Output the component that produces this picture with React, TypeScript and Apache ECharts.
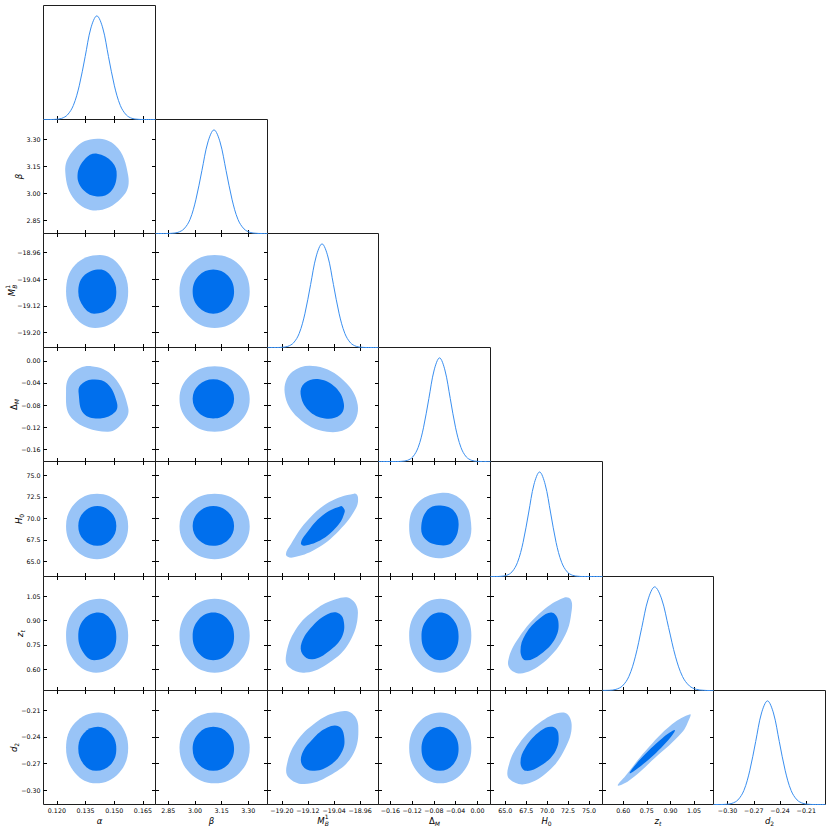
import React, { useEffect, useRef } from 'react';
import * as echarts from 'echarts';

// ---------------- data ----------------
const paramNames = ['alpha', 'beta', 'M_B^1', 'Delta_M', 'H_0', 'z_t', 'd_2'];

const axisRanges: [number, number][] = [
  [0.113, 0.1716],
  [2.778, 3.408],
  [-19.244, -18.904],
  [-0.182, 0.024],
  [63.25, 76.6],
  [0.469, 1.173],
  [-0.316, -0.188],
];

const tickValues: number[][] = [
  [0.12, 0.135, 0.15, 0.165],
  [2.85, 3.0, 3.15, 3.3],
  [-19.2, -19.12, -19.04, -18.96],
  [-0.16, -0.12, -0.08, -0.04, 0],
  [65, 67.5, 70, 72.5, 75],
  [0.6, 0.75, 0.9, 1.05],
  [-0.3, -0.27, -0.24, -0.21],
];

const tickLabels: string[][] = [
  ['0.120', '0.135', '0.150', '0.165'],
  ['2.85', '3.00', '3.15', '3.30'],
  ['\u221219.20', '\u221219.12', '\u221219.04', '\u221218.96'],
  ['\u22120.16', '\u22120.12', '\u22120.08', '\u22120.04', '0.00'],
  ['65.0', '67.5', '70.0', '72.5', '75.0'],
  ['0.60', '0.75', '0.90', '1.05'],
  ['\u22120.30', '\u22120.27', '\u22120.24', '\u22120.21'],
];

// 1D marginals (normalised density, peak = 1)
const margAlpha = [[0.113,0],[0.1163,0],[0.1194,0.002],[0.1225,0.011],[0.1255,0.044],[0.1286,0.135],[0.1317,0.325],[0.1348,0.607],[0.1378,0.883],[0.1409,1],[0.1440,0.883],[0.1470,0.607],[0.1501,0.325],[0.1532,0.135],[0.1563,0.044],[0.1593,0.011],[0.1624,0.002],[0.1655,0],[0.1716,0]];
const margBeta = [[2.778,0],[2.836,0],[2.870,0.002],[2.904,0.011],[2.938,0.044],[2.972,0.135],[3.005,0.325],[3.039,0.607],[3.073,0.883],[3.107,1],[3.141,0.883],[3.175,0.607],[3.209,0.325],[3.242,0.135],[3.276,0.044],[3.310,0.011],[3.344,0.002],[3.378,0],[3.408,0]];
const margMB = [[-19.244,0],[-19.217,0],[-19.1995,0.002],[-19.182,0.011],[-19.1645,0.044],[-19.147,0.135],[-19.1295,0.325],[-19.112,0.607],[-19.0945,0.883],[-19.077,1],[-19.0595,0.883],[-19.042,0.607],[-19.0245,0.325],[-19.007,0.135],[-18.9895,0.044],[-18.972,0.011],[-18.9545,0.002],[-18.937,0],[-18.904,0]];
const margDM = [[-0.182,0],[-0.1485,0],[-0.1387,0.002],[-0.1288,0.011],[-0.1190,0.044],[-0.1091,0.135],[-0.0993,0.325],[-0.0894,0.607],[-0.0796,0.883],[-0.0697,1],[-0.0599,0.883],[-0.0500,0.607],[-0.0402,0.325],[-0.0303,0.135],[-0.0205,0.044],[-0.0106,0.011],[-0.0008,0.002],[0.0091,0],[0.024,0]];
const margH0 = [[63.25,0],[63.84,0],[64.50,0.002],[65.16,0.011],[65.81,0.044],[66.47,0.135],[67.13,0.325],[67.79,0.607],[68.44,0.883],[69.10,1],[69.76,0.883],[70.42,0.607],[71.07,0.325],[71.73,0.135],[72.39,0.044],[73.05,0.011],[73.70,0.002],[74.36,0],[76.6,0]];
const margZt = [[0.469,0.001],[0.5133,0.002],[0.5542,0.011],[0.5952,0.044],[0.6362,0.135],[0.6771,0.325],[0.7181,0.607],[0.7590,0.883],[0.800,1],[0.8441,0.883],[0.8882,0.607],[0.9323,0.325],[0.9764,0.135],[1.0205,0.044],[1.0646,0.011],[1.1087,0.002],[1.1528,0],[1.173,0]];
const margD2 = [[-0.316,0],[-0.3084,0],[-0.3016,0.002],[-0.2949,0.011],[-0.2881,0.044],[-0.2813,0.135],[-0.2746,0.325],[-0.2678,0.607],[-0.2611,0.883],[-0.2543,1],[-0.2475,0.883],[-0.2408,0.607],[-0.2340,0.325],[-0.2273,0.135],[-0.2205,0.044],[-0.2137,0.011],[-0.2070,0.002],[-0.2002,0],[-0.188,0]];

// 2D contours (95% and 68% outlines), [x, y] in data units
const alpha_beta_95 = [[0.1244,3.118],[0.1279,3.228],[0.1375,3.298],[0.1506,3.265],[0.1573,3.099],[0.1550,2.989],[0.1419,2.906],[0.1296,2.961]];
const alpha_beta_68 = [[0.1308,3.099],[0.1349,3.192],[0.1410,3.219],[0.1489,3.173],[0.1513,3.099],[0.1480,3.007],[0.1410,2.983],[0.1340,3.017]];
const alpha_mb_95 = [[0.1573,-19.077],[0.1525,-18.998],[0.1425,-18.968],[0.1295,-18.998],[0.1248,-19.077],[0.1295,-19.154],[0.1400,-19.186],[0.1525,-19.154]];
const alpha_mb_68 = [[0.1511,-19.077],[0.1482,-19.030],[0.1425,-19.011],[0.1341,-19.030],[0.1312,-19.077],[0.1341,-19.124],[0.1395,-19.143],[0.1482,-19.124]];
const alpha_dm_95 = [[0.1573,-0.085],[0.1497,-0.029],[0.1380,-0.0098],[0.1279,-0.0229],[0.1248,-0.053],[0.1279,-0.1042],[0.1463,-0.1283],[0.1550,-0.1103]];
const alpha_dm_68 = [[0.1513,-0.0742],[0.1463,-0.041],[0.1384,-0.0338],[0.1323,-0.044],[0.1314,-0.059],[0.134,-0.0951],[0.1427,-0.1042],[0.1506,-0.0922]];
const alpha_h0_95 = [[0.1573,69.07],[0.1525,71.76],[0.1410,72.87],[0.1295,71.76],[0.1248,69.07],[0.1295,66.37],[0.1410,65.26],[0.1525,66.37]];
const alpha_h0_68 = [[0.1511,69.11],[0.1482,70.74],[0.1412,71.42],[0.1341,70.74],[0.1312,69.11],[0.1341,67.49],[0.1412,66.82],[0.1482,67.49]];
const alpha_zt_95 = [[0.1573,0.808],[0.1525,0.969],[0.1425,1.036],[0.1295,0.969],[0.1248,0.808],[0.1295,0.646],[0.1405,0.579],[0.1525,0.646]];
const alpha_zt_68 = [[0.1511,0.803],[0.1482,0.907],[0.1418,0.950],[0.1341,0.907],[0.1312,0.803],[0.1341,0.699],[0.1395,0.656],[0.1482,0.699]];
const alpha_d2_95 = [[0.1573,-0.2524],[0.1525,-0.2242],[0.1418,-0.2126],[0.1295,-0.2242],[0.1248,-0.2524],[0.1295,-0.2806],[0.1405,-0.2922],[0.1525,-0.2806]];
const alpha_d2_68 = [[0.1511,-0.2535],[0.1482,-0.2360],[0.1415,-0.2288],[0.1341,-0.2360],[0.1312,-0.2535],[0.1341,-0.2710],[0.1405,-0.2782],[0.1482,-0.2710]];
const beta_mb_95 = [[3.308,-19.077],[3.250,-18.998],[3.111,-18.968],[2.971,-18.998],[2.913,-19.077],[2.971,-19.154],[3.111,-19.186],[3.250,-19.154]];
const beta_mb_68 = [[3.220,-19.077],[3.186,-19.030],[3.103,-19.011],[3.021,-19.030],[2.987,-19.077],[3.021,-19.124],[3.103,-19.143],[3.186,-19.124]];
const beta_dm_95 = [[3.308,-0.0691],[3.250,-0.0271],[3.111,-0.0098],[2.971,-0.0271],[2.913,-0.0691],[2.971,-0.1112],[3.111,-0.1283],[3.250,-0.1112]];
const beta_dm_68 = [[3.220,-0.0687],[3.186,-0.0437],[3.103,-0.0332],[3.021,-0.0437],[2.987,-0.0687],[3.021,-0.0939],[3.103,-0.1042],[3.186,-0.0939]];
const beta_h0_95 = [[3.308,69.07],[3.250,71.76],[3.111,72.87],[2.971,71.76],[2.913,69.07],[2.971,66.37],[3.111,65.26],[3.250,66.37]];
const beta_h0_68 = [[3.220,69.11],[3.186,70.74],[3.103,71.42],[3.021,70.74],[2.987,69.11],[3.021,67.49],[3.103,66.82],[3.186,67.49]];
const beta_zt_95 = [[3.308,0.808],[3.250,0.969],[3.111,1.036],[2.971,0.969],[2.913,0.808],[2.971,0.646],[3.111,0.579],[3.250,0.646]];
const beta_zt_68 = [[3.220,0.803],[3.186,0.907],[3.103,0.950],[3.021,0.907],[2.987,0.803],[3.021,0.699],[3.103,0.656],[3.186,0.699]];
const beta_d2_95 = [[3.308,-0.2524],[3.250,-0.2242],[3.111,-0.2126],[2.971,-0.2242],[2.913,-0.2524],[2.971,-0.2806],[3.111,-0.2922],[3.250,-0.2806]];
const beta_d2_68 = [[3.220,-0.2535],[3.186,-0.2360],[3.103,-0.2288],[3.021,-0.2360],[2.987,-0.2535],[3.021,-0.2710],[3.103,-0.2782],[3.186,-0.2710]];
const mb_dm_95 = [[-18.9676,-0.080],[-19.010,-0.036],[-19.095,-0.0098],[-19.168,-0.020],[-19.1913,-0.058],[-19.150,-0.103],[-19.062,-0.1283],[-18.990,-0.118]];
const mb_dm_68 = [[-19.0102,-0.077],[-19.036,-0.048],[-19.085,-0.0332],[-19.130,-0.040],[-19.1426,-0.060],[-19.118,-0.090],[-19.068,-0.1042],[-19.022,-0.098]];
const mb_h0_95 = [[-18.967,72.47],[-18.979,72.87],[-19.055,71.885],[-19.1265,69.545],[-19.172,67.018],[-19.1874,65.766],[-19.167,65.45],[-19.096,66.433],[-19.025,68.574],[-18.974,71.113]];
const mb_h0_68 = [[-19.0096,71.113],[-19.020,71.417],[-19.0757,70.329],[-19.1265,68.188],[-19.1417,67.135],[-19.1314,66.819],[-19.0757,67.603],[-19.025,69.358],[-19.0078,70.715]];
const mb_zt_95 = [[-18.9895,1.036],[-18.967,0.9497],[-18.994,0.7645],[-19.055,0.6411],[-19.1265,0.5794],[-19.177,0.6103],[-19.1874,0.6825],[-19.157,0.8472],[-19.096,0.9706],[-19.0352,1.0323]];
const mb_zt_68 = [[-19.030,0.9497],[-19.0117,0.9089],[-19.0147,0.8059],[-19.055,0.7133],[-19.106,0.6621],[-19.1365,0.693],[-19.1395,0.7645],[-19.106,0.8676],[-19.0605,0.9398]];
const mb_d2_95 = [[-18.9895,-0.2128],[-18.966,-0.2277],[-18.9844,-0.2614],[-19.055,-0.2838],[-19.1314,-0.2931],[-19.1792,-0.2857],[-19.1853,-0.2726],[-19.157,-0.2465],[-19.096,-0.224],[-19.0352,-0.2128]];
const mb_d2_68 = [[-19.025,-0.2285],[-19.0096,-0.2389],[-19.0147,-0.2558],[-19.055,-0.2726],[-19.106,-0.2782],[-19.1365,-0.2726],[-19.1387,-0.2595],[-19.106,-0.2426],[-19.0605,-0.2296]];
const dm_h0_95 = [[-0.0684,72.938],[-0.0315,72.283],[-0.0131,70.130],[-0.0192,67.018],[-0.0653,65.38],[-0.1114,66.433],[-0.1256,68.96],[-0.1114,71.698]];
const dm_h0_68 = [[-0.0715,71.499],[-0.0439,70.914],[-0.0347,69.159],[-0.0468,67.205],[-0.0715,66.9],[-0.0961,67.603],[-0.1034,68.96],[-0.0929,70.914]];
const dm_zt_95 = [[-0.0112,0.808],[-0.0280,0.969],[-0.0684,1.036],[-0.1088,0.969],[-0.1256,0.808],[-0.1088,0.646],[-0.0684,0.579],[-0.0280,0.646]];
const dm_zt_68 = [[-0.0347,0.803],[-0.0446,0.907],[-0.0688,0.950],[-0.0929,0.907],[-0.1029,0.803],[-0.0929,0.699],[-0.0688,0.656],[-0.0446,0.699]];
const dm_d2_95 = [[-0.0112,-0.2524],[-0.0280,-0.2242],[-0.0684,-0.2126],[-0.1088,-0.2242],[-0.1256,-0.2524],[-0.1088,-0.2806],[-0.0684,-0.2922],[-0.0280,-0.2806]];
const dm_d2_68 = [[-0.0347,-0.2535],[-0.0446,-0.2360],[-0.0688,-0.2288],[-0.0929,-0.2360],[-0.1029,-0.2535],[-0.0929,-0.2710],[-0.0688,-0.2782],[-0.0446,-0.2710]];
const h0_zt_95 = [[72.80,1.0323],[71.999,1.0422],[69.417,0.9601],[66.62,0.7954],[65.354,0.6516],[65.832,0.5899],[67.421,0.5794],[70.206,0.672],[72.202,0.8164],[72.919,0.9601]];
const h0_zt_68 = [[70.612,0.9497],[71.33,0.8984],[71.007,0.7954],[69.214,0.693],[67.421,0.656],[66.824,0.7133],[67.421,0.8164],[69.214,0.9188]];
const h0_d2_95 = [[71.999,-0.2128],[72.919,-0.2258],[72.202,-0.2521],[70.206,-0.2782],[67.421,-0.2931],[65.509,-0.2875],[65.354,-0.2745],[66.62,-0.2483],[69.417,-0.2221]];
const h0_d2_68 = [[70.612,-0.2288],[71.33,-0.236],[71.007,-0.2558],[69.214,-0.2726],[67.421,-0.2782],[66.824,-0.2689],[67.421,-0.2521],[69.214,-0.2333]];
const zt_d2_95 = [[1.025,-0.2146],[0.9096,-0.2258],[0.7413,-0.2558],[0.6152,-0.2838],[0.5661,-0.2946],[0.636,-0.2894],[0.8043,-0.2633],[0.9726,-0.2352],[1.0186,-0.2202]];
const zt_d2_68 = [[0.9279,-0.2325],[0.8484,-0.2415],[0.7098,-0.265],[0.6417,-0.281],[0.7413,-0.2687],[0.8737,-0.2462]];

const marginals = [margAlpha, margBeta, margMB, margDM, margH0, margZt, margD2];

const contourPanels: { col: number; row: number; p95: number[][]; p68: number[][] }[] = [
  { col: 0, row: 1, p95: alpha_beta_95, p68: alpha_beta_68 },
  { col: 0, row: 2, p95: alpha_mb_95, p68: alpha_mb_68 },
  { col: 0, row: 3, p95: alpha_dm_95, p68: alpha_dm_68 },
  { col: 0, row: 4, p95: alpha_h0_95, p68: alpha_h0_68 },
  { col: 0, row: 5, p95: alpha_zt_95, p68: alpha_zt_68 },
  { col: 0, row: 6, p95: alpha_d2_95, p68: alpha_d2_68 },
  { col: 1, row: 2, p95: beta_mb_95, p68: beta_mb_68 },
  { col: 1, row: 3, p95: beta_dm_95, p68: beta_dm_68 },
  { col: 1, row: 4, p95: beta_h0_95, p68: beta_h0_68 },
  { col: 1, row: 5, p95: beta_zt_95, p68: beta_zt_68 },
  { col: 1, row: 6, p95: beta_d2_95, p68: beta_d2_68 },
  { col: 2, row: 3, p95: mb_dm_95, p68: mb_dm_68 },
  { col: 2, row: 4, p95: mb_h0_95, p68: mb_h0_68 },
  { col: 2, row: 5, p95: mb_zt_95, p68: mb_zt_68 },
  { col: 2, row: 6, p95: mb_d2_95, p68: mb_d2_68 },
  { col: 3, row: 4, p95: dm_h0_95, p68: dm_h0_68 },
  { col: 3, row: 5, p95: dm_zt_95, p68: dm_zt_68 },
  { col: 3, row: 6, p95: dm_d2_95, p68: dm_d2_68 },
  { col: 4, row: 5, p95: h0_zt_95, p68: h0_zt_68 },
  { col: 4, row: 6, p95: h0_d2_95, p68: h0_d2_68 },
  { col: 5, row: 6, p95: zt_d2_95, p68: zt_d2_68 },
];

// ---------------- styling / layout ----------------
const COL_LEFT = [43, 155, 267, 378, 490, 602, 713, 825];
const ROW_TOP = [5, 119, 233, 347, 461, 576, 690, 804];
const DARK = '#006FED';
const LIGHT = '#99C4F7';
const CURVE = '#3a8ff0';
const FRAME = '#1e1e1e';
const FONT = 'DejaVu Sans';

const titleParts = [
  { main: '\u03b1', mainItalic: true, mainW: 5.6 },
  { main: '\u03b2', mainItalic: true, mainW: 5.4 },
  { main: 'M', mainItalic: true, mainW: 7.4, sub: 'B', subItalic: true, subW: 4.1, sup: '1' },
  { main: '\u0394', mainItalic: false, mainW: 5.8, sub: 'M', subItalic: true, subW: 5.2 },
  { main: 'H', mainItalic: true, mainW: 6.4, sub: '0', subItalic: false, subW: 3.8 },
  { main: 'z', mainItalic: true, mainW: 4.5, sub: 't', subItalic: true, subW: 2.4 },
  { main: 'd', mainItalic: true, mainW: 5.4, sub: '2', subItalic: false, subW: 3.8 },
] as any[];
const yTitleX = [0, 18.5, 11.5, 13.5, 18.5, 19.5, 13.5];

function titleGroup(i: number, x: number, y: number, rotation: number) {
  const t = titleParts[i];
  const total = t.mainW + (t.sub ? t.subW : 0);
  const x0 = -total / 2;
  const base = { fontFamily: FONT, fill: '#000', textAlign: 'left', textVerticalAlign: 'middle' };
  const children: any[] = [
    { type: 'text', x: x0, y: 0, style: { ...base, text: t.main, fontSize: 8.5, fontStyle: t.mainItalic ? 'italic' : 'normal' } },
  ];
  if (t.sub) children.push({ type: 'text', x: x0 + t.mainW, y: 2.8, style: { ...base, text: t.sub, fontSize: 6, fontStyle: t.subItalic ? 'italic' : 'normal' } });
  if (t.sup) children.push({ type: 'text', x: x0 + t.mainW, y: -3.6, style: { ...base, text: t.sup, fontSize: 6 } });
  return { type: 'group', x, y, rotation, silent: true, children };
}

function labelFormatter(p: number) {
  return (v: number) => {
    const i = tickValues[p].findIndex((t) => Math.abs(t - v) < 1e-7 * Math.max(1, Math.abs(t)));
    return i >= 0 ? tickLabels[p][i] : '';
  };
}

function buildOption() {
  const grids: any[] = [];
  const xAxes: any[] = [];
  const yAxes: any[] = [];
  const series: any[] = [];
  const tick = (vals: number[]) => ({ show: true, inside: true, length: 3.5, customValues: vals, lineStyle: { color: '#000', width: 1 } });
  const label = (p: number, show: boolean) => ({
    show, customValues: tickValues[p], formatter: labelFormatter(p), fontSize: 6.3, fontFamily: FONT, color: '#000', margin: 3,
  });

  for (let r = 0; r < 7; r++) {
    for (let c = 0; c <= r; c++) {
      const g = grids.length;
      grids.push({
        left: COL_LEFT[c] + 0.5, top: ROW_TOP[r] + 0.5,
        width: COL_LEFT[c + 1] - COL_LEFT[c], height: ROW_TOP[r + 1] - ROW_TOP[r],
        show: true, borderColor: FRAME, borderWidth: 1, backgroundColor: 'transparent', containLabel: false,
      });
      const xr = axisRanges[c];
      const xb = xAxes.length;
      xAxes.push({
        type: 'value', gridIndex: g, min: xr[0], max: xr[1], position: 'bottom',
        axisLine: { show: false, onZero: false }, splitLine: { show: false },
        axisTick: tick(tickValues[c]), axisLabel: label(c, r === 6),
      });
      if (r !== c) {
        xAxes.push({
          type: 'value', gridIndex: g, min: xr[0], max: xr[1], position: 'top',
          axisLine: { show: false, onZero: false }, splitLine: { show: false },
          axisTick: tick(tickValues[c]), axisLabel: { show: false },
        });
      }
      const yl = yAxes.length;
      if (r === c) {
        yAxes.push({ type: 'value', gridIndex: g, min: 0, max: 1.1, show: false, axisLine: { onZero: false } });
        series.push({
          type: 'line', name: paramNames[c], xAxisIndex: xb, yAxisIndex: yl, data: marginals[c],
          smooth: 0.35, showSymbol: false, symbol: 'none', silent: true,
          lineStyle: { color: CURVE, width: 1 }, clip: true,
        });
      } else {
        const yr = axisRanges[r];
        yAxes.push({
          type: 'value', gridIndex: g, min: yr[0], max: yr[1], position: 'left',
          axisLine: { show: false, onZero: false }, splitLine: { show: false },
          axisTick: tick(tickValues[r]), axisLabel: label(r, c === 0),
        });
        yAxes.push({
          type: 'value', gridIndex: g, min: yr[0], max: yr[1], position: 'right',
          axisLine: { show: false, onZero: false }, splitLine: { show: false },
          axisTick: tick(tickValues[r]), axisLabel: { show: false },
        });
        const panel = contourPanels.find((p) => p.col === c && p.row === r)!;
        const levels = [panel.p95, panel.p68];
        series.push({
          type: 'custom', name: paramNames[c] + '-' + paramNames[r], xAxisIndex: xb, yAxisIndex: yl,
          coordinateSystem: 'cartesian2d', silent: true,
          data: [panel.p95[0], panel.p68[0]],
          renderItem: (params: any, api: any) => {
            const pts = levels[params.dataIndex].map((p) => api.coord(p));
            return {
              type: 'polygon',
              shape: { points: pts, smooth: 0.4 },
              style: { fill: params.dataIndex === 0 ? LIGHT : DARK, stroke: 'none' },
            };
          },
        });
      }
    }
  }

  const graphic: any[] = [];
  for (let c = 0; c < 7; c++) {
    graphic.push(titleGroup(c, (COL_LEFT[c] + COL_LEFT[c + 1]) / 2 + 0.5, 820.5, 0));
  }
  for (let r = 1; r < 7; r++) {
    graphic.push(titleGroup(r, yTitleX[r], (ROW_TOP[r] + ROW_TOP[r + 1]) / 2 + 0.5, Math.PI / 2));
  }

  return {
    animation: false,
    backgroundColor: '#ffffff',
    grid: grids,
    xAxis: xAxes,
    yAxis: yAxes,
    series,
    graphic,
  };
}

export default function App() {
  const ref = useRef<HTMLDivElement>(null);
  useEffect(() => {
    if (!ref.current) return;
    const chart = echarts.init(ref.current, undefined, { renderer: 'svg' });
    chart.setOption(buildOption() as any);
    return () => chart.dispose();
  }, []);
  return (
    <div
      ref={ref}
      style={{ position: 'fixed', left: 0, top: 0, width: 830, height: 832, background: '#fff' }}
    />
  );
}
